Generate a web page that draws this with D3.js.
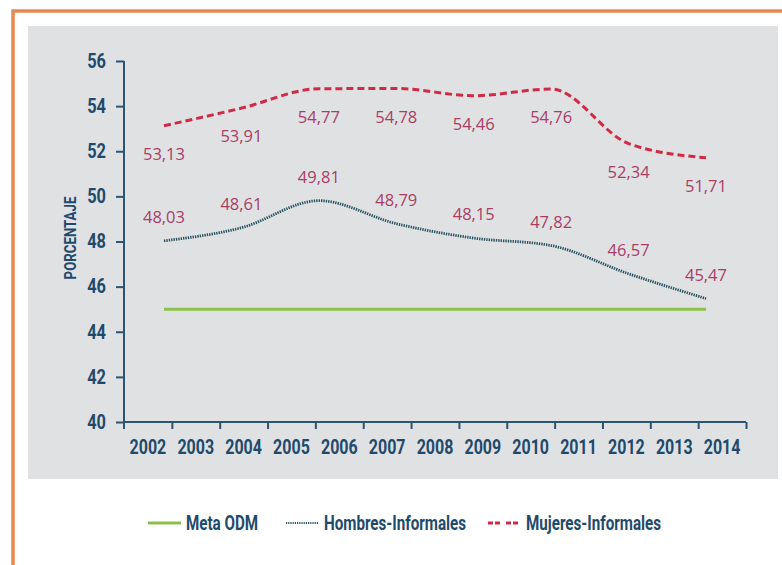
<!DOCTYPE html>
<html lang="es">
<head>
    <meta charset="UTF-8">
    <title>Informalidad por sexo</title>
    <script src="https://d3js.org/d3.v7.min.js"></script>
    <style>
        body { margin: 0; background: #fff; }
        svg { display: block; }
        .cond { font-family: Roboto, "DejaVu Sans", sans-serif; font-weight: bold; fill: #1f4a6c; }
        .valor { font-family: "Open Sans", "Noto Sans", sans-serif; font-size: 16.5px; fill: #a83e66; }
    </style>
</head>
<body>
<svg width="782" height="565"></svg>
<script>
    // Datos
    const anios = ["2002", "2003", "2004", "2005", "2006", "2007", "2008", "2009", "2010", "2011", "2012", "2013", "2014"];
    const puntos = ["p1", "p2", "p3", "p4", "p5", "p6", "p7", "p8"];
    const mujeres = [53.13, 53.91, 54.77, 54.78, 54.46, 54.76, 52.34, 51.71];
    const hombres = [48.03, 48.61, 49.81, 48.79, 48.15, 47.82, 46.57, 45.47];
    const metaODM = [45, 45, 45, 45, 45, 45, 45, 45];
    const yTicks = [40, 42, 44, 46, 48, 50, 52, 54, 56];
    const leyenda = ["Meta ODM", "Hombres-Informales", "Mujeres-Informales"];

    const svg = d3.select("svg");
    const fmt = d => d.toFixed(2).replace(".", ",");

    // comprime el texto horizontalmente (letra condensada)
    function condensar(sel, k) {
        sel.each(function() {
            const L = this.getComputedTextLength();
            d3.select(this).attr("textLength", L * k).attr("lengthAdjust", "spacingAndGlyphs");
        });
    }

    // marco naranja y panel gris
    svg.append("rect").attr("x", 13).attr("y", 11).attr("width", 800).attr("height", 600)
        .attr("fill", "none").attr("stroke", "#e8884e").attr("stroke-width", 3.5);
    svg.append("rect").attr("x", 28).attr("y", 26).attr("width", 750).attr("height", 453)
        .attr("fill", "#e0e1e3");

    // escalas
    const y = d3.scaleLinear().domain([40, 56]).range([422, 61]);
    const xBand = d3.scaleBand().domain(anios).range([124, 746]);
    const xEdge = d3.scaleLinear().domain([0, anios.length]).range([124, 746]);
    const xp = d3.scalePoint().domain(puntos).range([164, 706]);

    const axisColor = "#2b5573";

    // eje Y
    const gy = svg.append("g").attr("transform", "translate(124,0)")
        .call(d3.axisLeft(y).tickValues(yTicks).tickSize(8).tickPadding(10));
    gy.select(".domain").attr("d", `M0,${y(56)}V${y(40) + 7}`);
    gy.selectAll("line, .domain").attr("stroke", axisColor).attr("stroke-width", 2);
    gy.selectAll("text").attr("class", "cond").style("font-size", "19.5px").call(condensar, 0.84);

    // eje X: marcas en bordes de banda
    const gx = svg.append("g").attr("transform", "translate(0,422)")
        .call(d3.axisBottom(xEdge).tickValues(d3.range(1, anios.length + 1)).tickSize(7).tickFormat(""));
    gx.select(".domain").attr("d", "M124,0H746");
    gx.selectAll("line, .domain").attr("stroke", axisColor).attr("stroke-width", 2);

    const gxl = svg.append("g").attr("transform", "translate(0,422)")
        .call(d3.axisBottom(xBand).tickSize(0).tickPadding(17));
    gxl.select(".domain").remove();
    gxl.selectAll("text").attr("class", "cond").style("font-size", "20.5px").call(condensar, 0.78);

    // título eje Y
    svg.append("text").attr("class", "cond")
        .attr("transform", "translate(76,238) rotate(-90)")
        .attr("text-anchor", "middle").style("font-size", "17px")
        .text("PORCENTAJE").call(condensar, 0.78);

    // líneas
    const line = vals => d3.line().x((d, i) => xp(puntos[i])).y(d => y(d)).curve(d3.curveMonotoneX)(vals);

    svg.append("path").attr("d", line(metaODM)).attr("fill", "none")
        .attr("stroke", "#8cc04a").attr("stroke-width", 3);
    svg.append("path").attr("d", line(hombres)).attr("fill", "none")
        .attr("stroke", "#2a5560").attr("stroke-width", 2.8).attr("stroke-dasharray", "1.4,1");
    svg.append("path").attr("d", line(mujeres)).attr("fill", "none")
        .attr("stroke", "#d12a45").attr("stroke-width", 3).attr("stroke-dasharray", "7,4");

    // etiquetas de valores
    svg.selectAll(".vm").data(mujeres).enter().append("text")
        .attr("class", "valor").attr("text-anchor", "middle")
        .attr("x", (d, i) => xp(puntos[i]))
        .attr("y", d => y(d) + 34)
        .text(fmt);
    svg.selectAll(".vh").data(hombres).enter().append("text")
        .attr("class", "valor").attr("text-anchor", "middle")
        .attr("x", (d, i) => xp(puntos[i]))
        .attr("y", d => y(d) - 18)
        .text(fmt);

    // leyenda
    const legX = [148, 286, 488];
    const estilos = [
        { color: "#8cc04a", w: 3, dash: null },
        { color: "#2a5560", w: 2, dash: "1.2,1" },
        { color: "#d12a45", w: 3, dash: "5,2,5,6" }
    ];
    leyenda.forEach((name, i) => {
        const g = svg.append("g").attr("transform", `translate(${legX[i]},523)`);
        g.append("line").attr("x1", 0).attr("x2", 33).attr("y1", 0).attr("y2", 0)
            .attr("stroke", estilos[i].color).attr("stroke-width", estilos[i].w)
            .attr("stroke-dasharray", estilos[i].dash);
        g.append("text").attr("class", "cond").attr("x", 38).attr("y", 0).attr("dy", "0.36em")
            .style("font-size", "20.5px").text(name).call(condensar, 0.74);
    });
</script>
</body>
</html>
